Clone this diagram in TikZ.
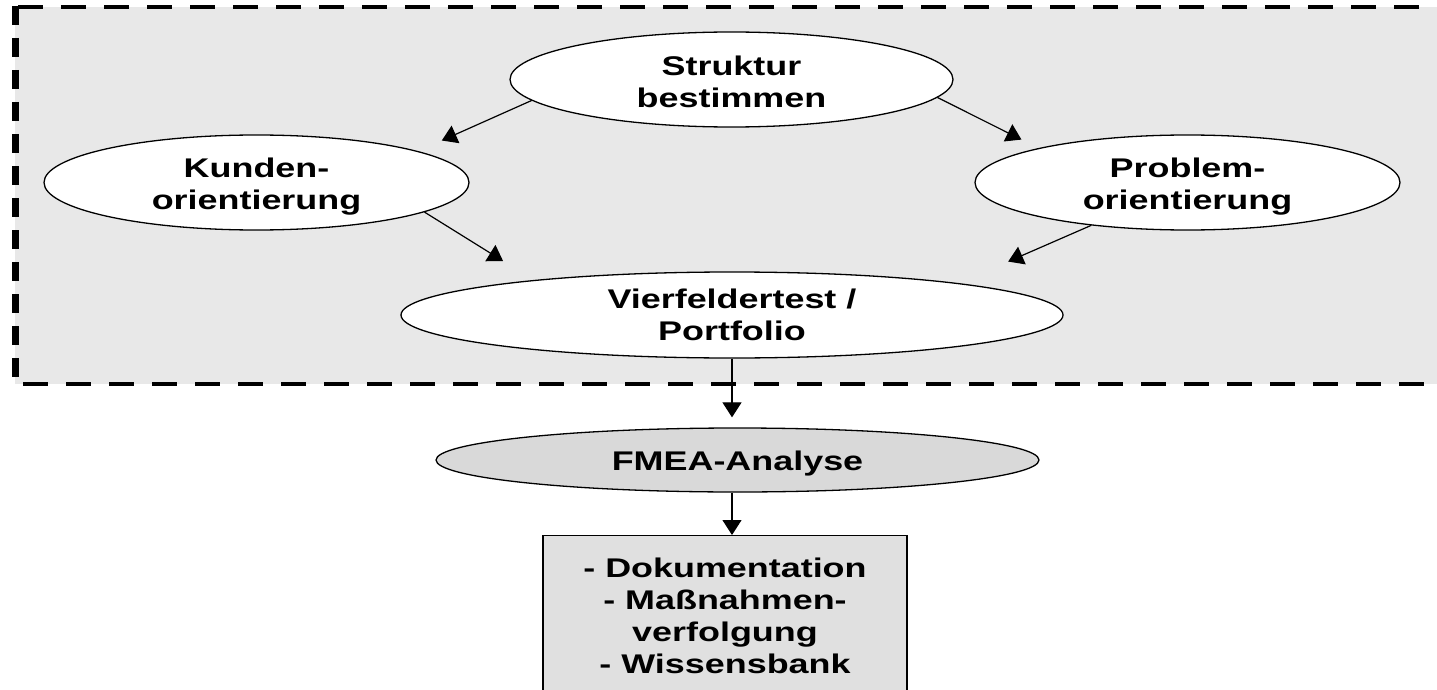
\documentclass[tikz,border=0pt]{standalone}
\usepackage{fontspec}
\setmainfont{Liberation Sans}[FakeStretch=1.33]
\usetikzlibrary{arrows.meta,shapes.geometric}
\definecolor{panelgray}{HTML}{E8E8E8}
\definecolor{fmeagray}{HTML}{D9D9D9}
\definecolor{boxgray}{HTML}{E0E0E0}

\begin{document}
\begin{tikzpicture}[x=1pt,y=-1pt,line width=1.3pt,>={Triangle[length=15pt,width=19pt]},
  oval/.style={ellipse,draw,fill=white,inner sep=0pt},
  lbl/.style={font=\fontsize{27}{32}\selectfont\bfseries,align=center},
  arr/.style={->,line width=1.2pt}]
\useasboundingbox (0,0) rectangle (1437,690);
% dashed panel
\fill[panelgray] (15,7) rectangle (1445,384);
\draw[line width=4.7pt,dash pattern=on 25pt off 18pt] (18,7) -- (1445,7);
\draw[line width=4.7pt,dash pattern=on 25pt off 18pt] (23,384) -- (1445,384);
\draw[line width=6.5pt,dash pattern=on 19pt off 13pt] (15.5,6) -- (15.5,384);
% ellipses
\node[oval,minimum width=443pt,minimum height=95pt] (struk) at (731.5,79.5) {};
\node[oval,minimum width=425pt,minimum height=95pt] (kund) at (256.5,182.5) {};
\node[oval,minimum width=425pt,minimum height=95pt] (prob) at (1187.5,182.5) {};
\node[oval,minimum width=662pt,minimum height=86pt] (vier) at (732,315) {};
\node[oval,fill=fmeagray,minimum width=603pt,minimum height=64pt] (fmea) at (737.5,460) {};
\node[lbl,yshift=-2.5pt] at (struk) {Struktur\\bestimmen};
\node[lbl,yshift=-4pt] at (kund) {Kunden-\\orientierung};
\node[lbl,yshift=-4pt] at (prob) {Problem-\\orientierung};
\node[lbl] at (vier) {Vierfeldertest /\\Portfolio};
\node[lbl,yshift=-4pt] at (fmea) {FMEA-Analyse};
% result box
\node[lbl,draw,fill=boxgray,anchor=north,minimum width=364pt,minimum height=160pt,inner sep=0pt]
  (box) at (725,535) {- Dokumentation\\- Maßnahmen-\\verfolgung\\- Wissensbank};
% arrows
\draw[arr,shorten >=26pt] (struk.186) -- (kund.11);
\draw[arr,shorten >=19pt] (struk.355) -- (prob.167);
\draw[arr,shorten >=36pt] (kund.350) -- (vier.170);
\draw[arr,shorten >=54pt] (prob.204) -- (vier.8);
\draw[arr,shorten >=10pt] (vier.south) -- (vier.south |- fmea.north);
\draw[arr] (vier.south |- fmea.south) -- (vier.south |- box.north);
\end{tikzpicture}
\end{document}
